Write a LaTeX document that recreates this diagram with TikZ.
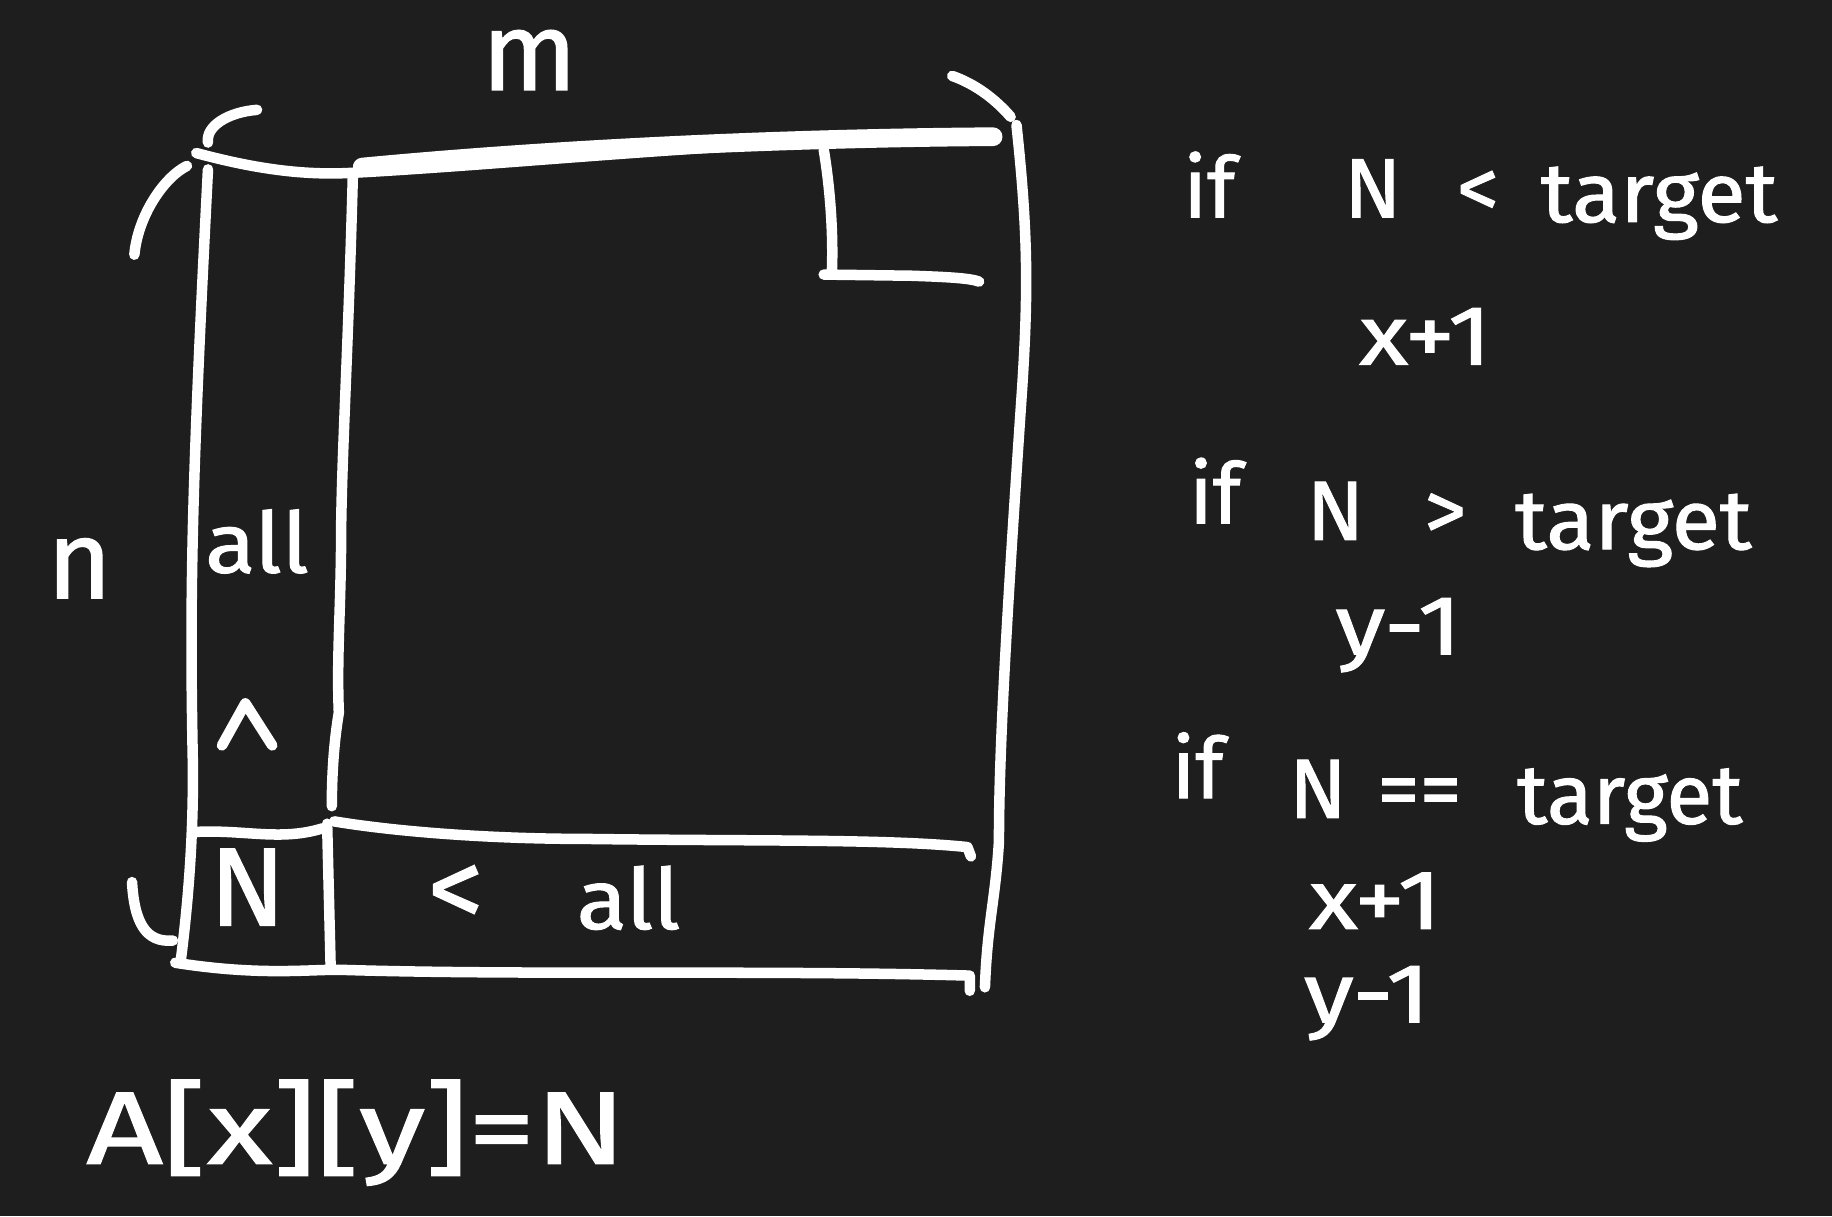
\documentclass[tikz,border=0pt]{standalone}
\usepackage{fontspec}
\setmainfont{Fira Sans}[FakeBold=1.2]
\definecolor{bg}{RGB}{30,30,30}
\tikzset{
  pen/.style={draw=white,line width=9pt,line cap=round,line join=round},
  thickpen/.style={draw=white,line width=16pt,line cap=round},
  hw/.style={text=white,inner sep=0pt,anchor=base,font=\fontsize{72}{80}\selectfont},
  hwbig/.style={hw,font=\fontsize{95}{110}\selectfont},
}
\begin{document}
\begin{tikzpicture}[x=1pt,y=-1pt]
\fill[bg] (0,0) rectangle (1568,1041);
\useasboundingbox (0,0) rectangle (1568,1041);
% named corner coordinates
\coordinate (tl) at (168,131);
\coordinate (tr) at (850,117);
\coordinate (bl) at (150,824);
\coordinate (br) at (830,848);
% outer frame
\draw[pen] (tl) .. controls (220,145) and (260,150) .. (300,148) .. controls (450,140) and (650,118) .. (tr);
\draw[thickpen] (310,143) .. controls (500,125) and (700,118) .. (tr);
\draw[pen] (178,145) .. controls (165,400) and (162,500) .. (165,650) .. controls (166,720) and (160,780) .. (155,820);
\draw[pen] (870,107) .. controls (880,200) and (880,250) .. (875,330) .. controls (860,550) and (855,650) .. (855,720) .. controls (852,770) and (845,790) .. (843,845);
\draw[pen] (bl) .. controls (220,835) and (260,830) .. (290,830) .. controls (450,835) and (650,830) .. (830,835) -- (br);
% left column divider
\draw[pen] (302,150) .. controls (298,300) and (293,380) .. (292,450) .. controls (292,520) and (288,560) .. (290,610) .. controls (285,640) and (284,670) .. (284,690);
\draw[pen] (280,705) -- (283,828);
% row divider
\draw[pen] (168,712) .. controls (210,710) and (240,720) .. (276,709);
\draw[pen] (286,703) .. controls (340,712) and (420,718) .. (500,718) .. controls (650,720) and (760,718) .. (828,725) -- (831,733);
% corner mark
\draw[pen] (705,128) .. controls (712,170) and (713,210) .. (712,232);
\draw[pen] (705,235) -- (780,236) .. controls (810,237) and (830,238) .. (838,241);
% brace arcs
\draw[pen] (178,122) .. controls (176,108) and (195,96) .. (220,94);
\draw[pen] (815,65) .. controls (835,72) and (852,85) .. (865,100);
\draw[pen] (115,218) .. controls (118,185) and (140,152) .. (160,142);
\draw[pen] (113,755) .. controls (115,790) and (125,807) .. (148,805);
% wedge in left column
\draw[pen] (190,638) -- (210,602) -- (233,638);
% labels
\node[hwbig] (m) at (453,77) {m};
\node[hwbig] (n) at (68,512) {n};
\node[hw,xscale=1.1] (all1) at (220,490) {all};
\node[hwbig] (N1) at (212,792) {N};
\node[hwbig] (lt) at (390,793) {<};
\node[hw,xscale=1.1] (all2) at (538,795) {all};
\node[hw,font=\fontsize{88}{100}\selectfont,xscale=1.3] (A) at (305,996) {A[x][y]=N};
% right column
\node[hw] (if1) at (1035,186) {if};
\node[hw] (N2) at (1175,186) {N};
\node[hw] (lt2) at (1265,186) {<};
\node[hw,xscale=1.05] (t1) at (1420,190) {target};
\node[hw,xscale=1.2] (x1) at (1220,312) {x+1};
\node[hw] (if2) at (1040,448) {if};
\node[hw] (N3) at (1143,462) {N};
\node[hw] (gt) at (1237,462) {>};
\node[hw,xscale=1.05] (t2) at (1398,470) {target};
\node[hw,xscale=1.2] (y1) at (1197,560) {y-1};
\node[hw] (if3) at (1025,683) {if};
\node[hw] (N4) at (1128,700) {N};
\node[hw] (eq) at (1215,700) {==};
\node[hw] (t3) at (1395,705) {target};
\node[hw,xscale=1.2] (x2) at (1177,795) {x+1};
\node[hw,xscale=1.2] (y2) at (1170,875) {y-1};
\end{tikzpicture}
\end{document}
